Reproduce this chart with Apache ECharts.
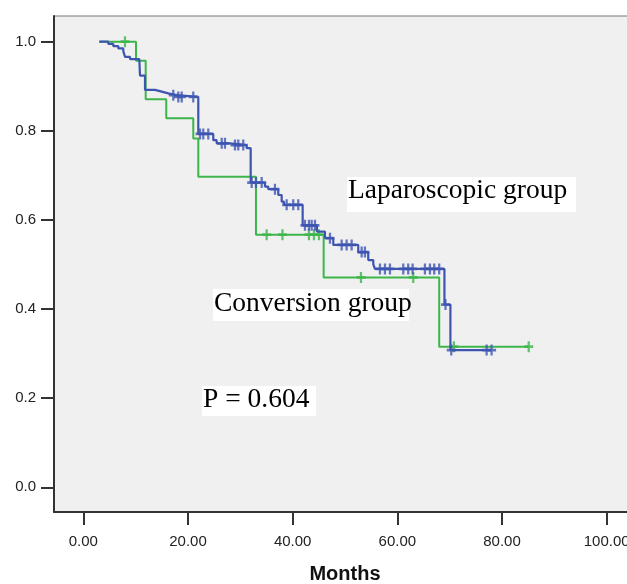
<!DOCTYPE html>
<html>
<head>
<meta charset="utf-8">
<script src="https://cdn.jsdelivr.net/npm/echarts@6/dist/echarts.min.js"></script>
<style>
  html, body { margin: 0; padding: 0; background: #fff; }
  #chart { width: 627px; height: 584px; }
</style>
</head>
<body>
<div id="chart"></div>
<script>
// Laparoscopic group: step times (months) and survival after each step
const lapTime = [3.06, 4.78, 5.73, 6.69, 7.64, 7.97, 8.92, 10.70, 10.83, 11.79, 13.70, 14.98, 16.24, 17.71,
    21.97, 24.83, 25.48, 28.02, 31.21, 31.98, 34.71, 35.34, 37.25, 37.90, 38.34, 41.91, 44.64, 46.17,
    47.76, 52.53, 54.44, 55.40, 55.72, 69.0, 70.14, 78.0];
const lapSurv = [1.000, 0.995, 0.990, 0.985, 0.979, 0.966, 0.961, 0.958, 0.924, 0.892, 0.888, 0.884, 0.880, 0.876,
    0.793, 0.779, 0.772, 0.768, 0.761, 0.684, 0.675, 0.669, 0.656, 0.641, 0.634, 0.588, 0.574, 0.559,
    0.544, 0.528, 0.510, 0.501, 0.490, 0.410, 0.308, 0.308];
const lapCensor = [17.19, 18.15, 18.80, 21.01, 22.3, 22.92, 23.88, 26.44, 27.07, 28.98, 29.61, 30.56,
    32.17, 32.99, 34.08, 36.62, 38.85, 40.11, 41.07, 42.35, 43.11, 43.63, 44.26, 47.13, 49.36, 50.31,
    51.27, 53.18, 53.81, 56.68, 57.63, 58.59, 61.13, 62.08, 62.92, 65.27, 66.23, 67.05, 68.00, 69.2,
    70.3, 77.06, 78.01];

// Conversion group
const convTime = [3.06, 10.07, 11.92, 15.85, 21.01, 21.97, 32.99, 45.92, 68.0, 85.1];
const convSurv = [1.0, 0.957, 0.871, 0.828, 0.783, 0.697, 0.567, 0.471, 0.3155, 0.3155];
const convCensor = [7.96, 35.03, 38.05, 43.11, 44.07, 45.02, 53.05, 63.04, 70.8, 85.1];

const xTicks = [0, 20, 40, 60, 80, 100];
const yTicks = [0, 0.2, 0.4, 0.6, 0.8, 1.0];

const BLUE = '#3d55b0';
const GREEN = '#3cb54a';
// "+" censor mark, arms 2.5/10 thick
const PLUS = 'path://M3.75,0H6.25V3.75H10V6.25H6.25V10H3.75V6.25H0V3.75H3.75Z';

function survAt(times, surv, t) {
    let s = surv[0];
    for (let i = 0; i < times.length; i++) {
        if (times[i] <= t) s = surv[i];
    }
    return s;
}
const pairs = (a, b) => a.map((t, i) => [t, b[i]]);
const censorPts = (c, times, surv) => c.map(t => [t, survAt(times, surv, t)]);

const chart = echarts.init(document.getElementById('chart'));

const axisFont = { color: '#222', fontSize: 15, fontFamily: 'Liberation Sans' };

chart.setOption({
    animation: false,
    backgroundColor: '#fff',
    grid: {
        left: 54, top: 16, width: 582, height: 496,
        outerBoundsMode: 'none', containLabel: false,
        show: true, backgroundColor: '#f0f0f0', borderColor: '#777', borderWidth: 1
    },
    xAxis: {
        type: 'value', min: -5.6, max: 105.6,
        splitLine: { show: false },
        axisLine: { onZero: false, lineStyle: { color: '#333', width: 2 } },
        axisTick: { customValues: xTicks, length: 13, lineStyle: { color: '#333', width: 2 } },
        axisLabel: Object.assign({ customValues: xTicks, margin: 22, formatter: v => v.toFixed(2) }, axisFont),
        name: 'Months', nameLocation: 'middle', nameGap: 52,
        nameTextStyle: { fontSize: 20, fontWeight: 'bold', color: '#111', fontFamily: 'Liberation Sans' }
    },
    yAxis: {
        type: 'value', min: -0.0554, max: 1.0577,
        splitLine: { show: false },
        axisLine: { onZero: false, lineStyle: { color: '#333', width: 2 } },
        axisTick: { customValues: yTicks, length: 13, lineStyle: { color: '#333', width: 2 } },
        axisLabel: Object.assign({ customValues: yTicks, margin: 18, formatter: v => v.toFixed(1) }, axisFont)
    },
    series: [
        {
            name: 'Conversion group', type: 'line', step: 'end', showSymbol: false,
            lineStyle: { color: GREEN, width: 2 }, data: pairs(convTime, convSurv), z: 2
        },
        {
            name: 'Conversion censored', type: 'scatter', symbol: PLUS, symbolSize: [9, 11],
            itemStyle: { color: GREEN }, data: censorPts(convCensor, convTime, convSurv), z: 2
        },
        {
            name: 'Laparoscopic group', type: 'line', step: 'end', showSymbol: false,
            lineStyle: { color: BLUE, width: 2.2 }, data: pairs(lapTime, lapSurv), z: 3
        },
        {
            name: 'Laparoscopic censored', type: 'scatter', symbol: PLUS, symbolSize: [9, 11],
            itemStyle: { color: BLUE }, data: censorPts(lapCensor, lapTime, lapSurv), z: 3
        }
    ],
    graphic: [
        { type: 'rect', shape: { x: 347, y: 177, width: 229, height: 35 }, style: { fill: '#fff' }, z: 10 },
        { type: 'text', x: 348, y: 191, style: { text: 'Laparoscopic group', fill: '#000',
            font: '27.5px "Liberation Serif"', verticalAlign: 'middle' }, z: 11 },
        { type: 'rect', shape: { x: 213, y: 289, width: 196, height: 32 }, style: { fill: '#fff' }, z: 10 },
        { type: 'text', x: 214, y: 304, style: { text: 'Conversion group', fill: '#000',
            font: '27.5px "Liberation Serif"', verticalAlign: 'middle' }, z: 11 },
        { type: 'rect', shape: { x: 202, y: 386, width: 114, height: 30 }, style: { fill: '#fff' }, z: 10 },
        { type: 'text', x: 203, y: 400, style: { text: 'P = 0.604', fill: '#000',
            font: '27.5px "Liberation Serif"', verticalAlign: 'middle' }, z: 11 }
    ]
});
</script>
</body>
</html>
